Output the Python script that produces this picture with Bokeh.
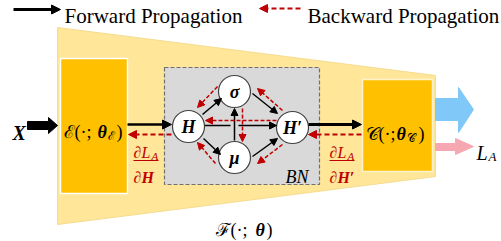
from bokeh.plotting import figure
from bokeh.models import Range1d, Arrow, NormalHead, ColumnDataSource
from bokeh.core.properties import value
from bokeh.embed import file_html
from bokeh.resources import INLINE

SERIF = "Liberation Serif"
RED = "#C00000"

# ---- texts ----
legend_labels = ["Forward Propagation", "Backward Propagation"]
node_labels = ["H", "σ", "μ", "H′"]
encoder_parts = ["ℰ(·; ", "θ", "ℰ", ")"]
decoder_parts = ["𝒞(·; ", "θ", "𝒞", ")"]
model_parts = ["ℱ(·; ", "θ", ")"]

# ---- layout (pixel coordinates of the diagram) ----
node_x = [188, 234, 234, 292]
node_y = [126, 91, 157, 127]
node_r = 16

trap_x = [57, 435, 435, 57]
trap_y = [27, 75, 176, 224]

enc_box = dict(left=60, right=127, top=58, bottom=193)
dec_box = dict(left=362, right=432, top=79, bottom=171)
bn_box = dict(left=164, right=319, top=67, bottom=184)

x_arrow_x = [27, 48, 48, 57, 48, 48, 27]
x_arrow_y = [121, 121, 117, 125, 133, 129, 129]
blue_arrow_x = [435, 458, 458, 473, 458, 458, 435]
blue_arrow_y = [98, 98, 87, 109, 132, 120, 120]
pink_arrow_x = [435, 455, 455, 473, 455, 455, 435]
pink_arrow_y = [143, 143, 138, 146, 154, 150, 150]

# black solid arrows inside BN
fwd_x0 = [202, 203, 252, 252, 234, 238]
fwd_y0 = [114, 138, 93, 156, 140, 125]
fwd_x1 = [221, 220, 277, 277, 234, 276]
fwd_y1 = [98, 154, 113, 138, 108, 125]
# red dashed arrows inside BN
bwd_x0 = [217, 215, 282, 282, 242, 276]
bwd_y0 = [86, 163, 110, 144, 108, 120]
bwd_x1 = [197, 197, 257, 257, 242, 205]
bwd_y1 = [107, 142, 88, 163, 141, 120]

p = figure(width=501, height=241, output_backend="svg", toolbar_location=None,
           x_range=Range1d(0, 501), y_range=Range1d(241, 0),
           min_border=0, outline_line_color=None,
           x_axis_location=None, y_axis_location=None)
p.grid.visible = False
p.background_fill_color = "white"
p.border_fill_color = "white"

# outer trapezoid F
p.patch(trap_x, trap_y, fill_color="#FFE699", line_color="#F5DC8F", line_width=1)

# encoder / decoder boxes
p.quad(fill_color="#FFC000", line_color="white", line_width=1.5, **enc_box)
p.quad(fill_color="#FFC000", line_color="#FFF2CC", line_width=1.5, **dec_box)

# BN box
p.quad(fill_color="#D9D9D9", line_color="#707070", line_width=1.2, line_dash="4 2", **bn_box)

# big arrows
p.patch(x_arrow_x, x_arrow_y, fill_color="black", line_color="black")
p.patch(blue_arrow_x, blue_arrow_y, fill_color="#80C8F8", line_color="#80C8F8")
p.patch(pink_arrow_x, pink_arrow_y, fill_color="#F6A8B2", line_color="#F6A8B2")

def arrows(x0, y0, x1, y1, color, width, dash="solid", size=7):
    src = ColumnDataSource(dict(x0=x0, y0=y0, x1=x1, y1=y1))
    p.add_layout(Arrow(source=src, x_start="x0", y_start="y0", x_end="x1", y_end="y1",
                       line_color=color, line_width=width, line_dash=dash,
                       end=NormalHead(size=size, fill_color=color, line_color=color, line_width=1)))

# BN internal arrows
p.segment(x0=[204], y0=[125], x1=[230], y1=[125], line_color="black", line_width=1.5)
arrows(fwd_x0, fwd_y0, fwd_x1, fwd_y1, "black", 1.5, size=7)
arrows(bwd_x0, bwd_y0, bwd_x1, bwd_y1, RED, 1.5, dash="4 2", size=7)

# outer arrows
arrows([127], [124], [171], [124], "black", 2.5, size=9)
arrows([171], [134], [128], [134], RED, 2, dash="5 3", size=8)
arrows([308], [124], [361], [124], "black", 3, size=9)
arrows([361], [134], [308], [134], RED, 2, dash="5 3", size=8)

# legend arrows
arrows([13], [9], [60], [9], "black", 3, size=9)
arrows([300], [8], [259], [8], RED, 2, dash="5 3", size=8)

# nodes
p.circle(node_x, node_y, radius=node_r, fill_color="white", line_color="#404040", line_width=1.2)
p.text(node_x, node_y, text=node_labels, text_font=value(SERIF), text_font_style="bold italic",
       text_font_size="18px", text_align="center", text_baseline="middle", text_color="black")

def txt(x, y, s, size, style="normal", color="black", align="left", baseline="alphabetic"):
    p.text(x=[x], y=[y], text=[s], text_font=value(SERIF), text_font_style=style,
           text_font_size=size, text_color=color, text_align=align, text_baseline=baseline)

# legend texts
txt(64, 15, legend_labels[0], "21px")
txt(307, 15, legend_labels[1], "21px")

# X input
txt(12, 132, "X", "20px", "bold italic")

# encoder label
txt(63, 131, encoder_parts[0], "18px")
txt(97, 131, encoder_parts[1], "18px", "bold italic")
txt(107, 135, encoder_parts[2], "12px")
txt(116, 131, encoder_parts[3], "18px")

# decoder label
txt(365, 133, decoder_parts[0], "18px")
txt(396, 133, decoder_parts[1], "18px", "bold italic")
txt(406, 137, decoder_parts[2], "12px")
txt(418, 133, decoder_parts[3], "18px")

# model label
txt(215, 229, model_parts[0], "18px")
txt(255, 229, model_parts[1], "18px", "bold italic")
txt(266, 229, model_parts[2], "18px")

# BN label
txt(285, 176, "BN", "18px", "italic")

# gradient fractions
for cx, den in [(145, "∂H"), (341, "∂H′")]:
    txt(cx - 12, 152, "∂L", "16px", "italic", RED)
    txt(cx + 6, 155, "A", "11px", "italic", RED)
    p.segment(x0=[cx - 12], y0=[160], x1=[cx + 13], y1=[160], line_color=RED, line_width=1.2)
    txt(cx - 12, 177, den, "16px", "bold italic", RED)

# loss label
txt(476, 152, "L", "20px", "italic")
txt(488, 156, "A", "13px", "italic")

open("out.html", "w").write(file_html(p, INLINE))
